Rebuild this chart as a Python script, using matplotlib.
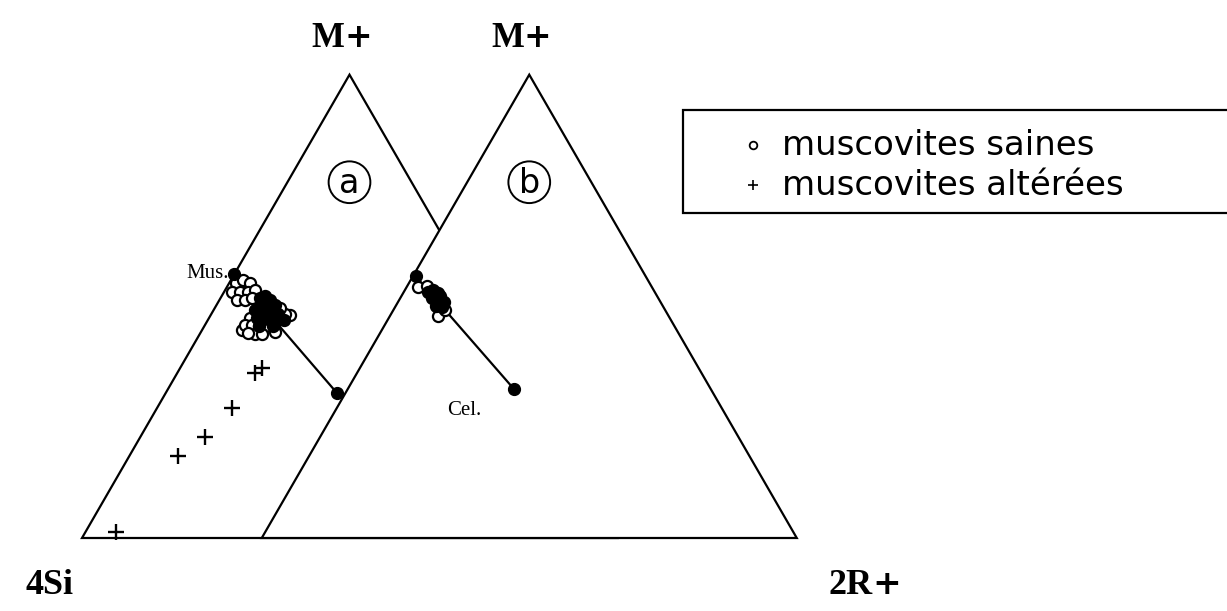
import numpy as np
import matplotlib
matplotlib.use("Agg")
import matplotlib.pyplot as plt
from matplotlib.patches import Polygon, Circle, Rectangle

# Diagramme ternaire M+ / 4Si / 2R+ (deux triangles a et b)
# chaque point : (M+, 2R+) en fraction, 4Si = 1 - M+ - 2R+

# triangle a
mus_a = (0.57, 0.0)
cel_a = (0.313, 0.320)
saines_a_M = [0.550, 0.557, 0.550, 0.531, 0.531, 0.531, 0.535, 0.514, 0.514, 0.518,
              0.449, 0.475, 0.460, 0.460, 0.458, 0.458, 0.440, 0.440, 0.442, 0.445,
              0.481, 0.483, 0.496]
saines_a_R = [0.013, 0.022, 0.039, 0.015, 0.030, 0.045, 0.056, 0.033, 0.048, 0.059,
              0.075, 0.077, 0.075, 0.088, 0.102, 0.115, 0.103, 0.116, 0.089, 0.138,
              0.148, 0.138, 0.122]
# coeur dense du nuage (rendu noir)
dense_a_M = [0.518, 0.522, 0.514, 0.503, 0.503, 0.503, 0.492, 0.488, 0.488, 0.488,
             0.483, 0.475, 0.475, 0.471, 0.471, 0.471, 0.458, 0.458]
dense_a_R = [0.074, 0.081, 0.094, 0.085, 0.096, 0.109, 0.077, 0.089, 0.100, 0.111,
             0.125, 0.090, 0.101, 0.116, 0.129, 0.142, 0.102, 0.128]
alterees_a_M = [0.356, 0.367, 0.281, 0.218, 0.177, 0.013]
alterees_a_R = [0.145, 0.153, 0.140, 0.121, 0.091, 0.057]

# triangle b
mus_b = (0.565, 0.005)
cel_b = (0.322, 0.310)
saines_b_M = [0.542, 0.544, 0.479, 0.492]
saines_b_R = [0.021, 0.036, 0.090, 0.096]
dense_b_M = [0.531, 0.535, 0.529, 0.518, 0.514, 0.509, 0.501, 0.499, 0.522]
dense_b_R = [0.045, 0.052, 0.0645, 0.059, 0.072, 0.086, 0.075, 0.087, 0.072]

H = np.sqrt(3) / 2
DX_B = 0.336  # decalage du triangle b


def tern(M, R, dx=0.0):
    M = np.asarray(M, float)
    R = np.asarray(R, float)
    return R + M / 2 + dx, M * H


def label_plus(x, y, base, size=25):
    # lettre en Times gras + signe plus plus large
    ax.text(x, y, base, ha='right', va='baseline', fontsize=size,
            family='Liberation Serif', weight='bold')
    ax.text(x, y, '+', ha='left', va='baseline', fontsize=size * 0.95,
            family='DejaVu Serif', weight='bold')


serif = 'Liberation Serif'
fig = plt.figure(figsize=(12.27, 6.11), dpi=100)
ax = fig.add_axes([0, 0, 1, 1])
ax.set_xlim(-0.15327, 2.14019)
ax.set_ylim(-0.13645, 1.00561)
ax.axis('off')

for dx, z in [(0.0, 1), (DX_B, 3)]:
    ax.add_patch(Polygon([[dx, 0], [dx + 0.5, H], [dx + 1, 0]], closed=True,
                         fc='white', ec='black', lw=1.6, zorder=z, joinstyle='miter'))

# triangle a
x, y = tern([mus_a[0], cel_a[0]], [mus_a[1], cel_a[1]])
ax.plot(x, y, color='black', lw=1.6, zorder=4)
ax.plot(*tern(saines_a_M, saines_a_R), 'o', ms=8, mfc='white', mec='black', mew=1.6, zorder=5)
ax.plot(*tern(dense_a_M, dense_a_R), 'o', ms=8, mfc='black', mec='black', mew=1.6, zorder=6)
ax.plot(x, y, 'o', ms=8.5, color='black', zorder=7)
ax.plot(*tern(alterees_a_M, alterees_a_R), '+', ms=11, mec='black', mew=1.7, zorder=5)

# triangle b
x, y = tern([mus_b[0], cel_b[0]], [mus_b[1], cel_b[1]], DX_B)
ax.plot(x, y, color='black', lw=1.6, zorder=4)
ax.plot(*tern(saines_b_M, saines_b_R, DX_B), 'o', ms=8, mfc='white', mec='black', mew=1.6, zorder=5)
ax.plot(*tern(dense_b_M, dense_b_R, DX_B), 'o', ms=8, mfc='black', mec='black', mew=1.6, zorder=6)
ax.plot(x, y, 'o', ms=8.5, color='black', zorder=7)

# lettres entourees
for dx, lab in [(0.0, 'a'), (DX_B, 'b')]:
    ax.add_patch(Circle((dx + 0.5, 0.665), 0.039, fc='none', ec='black', lw=1.4, zorder=8))
    ax.text(dx + 0.5, 0.662, lab, ha='center', va='center', fontsize=24,
            family='DejaVu Sans', zorder=8)

label_plus(0.49, 0.918, 'M')
label_plus(DX_B + 0.49, 0.918, 'M')
ax.text(-0.06, -0.105, '4Si', ha='center', va='baseline', fontsize=26,
        family=serif, weight='bold')
label_plus(1.478, -0.105, '2R', size=26)
ax.text(0.275, 0.495, 'Mus.', ha='right', va='center', fontsize=15, family=serif)
ax.text(0.715, 0.238, 'Cel.', ha='center', va='center', fontsize=15, family=serif)

# legende
ax.add_patch(Rectangle((0.5566, 0.6514), 0.46, 0.1686, transform=ax.transAxes,
                       fc='white', ec='black', lw=1.6, clip_on=False, zorder=8))
ax.plot([0.6135], [0.762], 'o', ms=5.5, mfc='white', mec='black', mew=1.3,
        transform=ax.transAxes, zorder=9)
ax.plot([0.6135], [0.697], '+', ms=7, mec='black', mew=1.2,
        transform=ax.transAxes, zorder=9)
ax.text(0.637, 0.762, 'muscovites saines', transform=ax.transAxes, ha='left',
        va='center', fontsize=24.5, family='DejaVu Sans', zorder=9)
ax.text(0.637, 0.697, 'muscovites altérées', transform=ax.transAxes, ha='left',
        va='center', fontsize=24.5, family='DejaVu Sans', zorder=9)

fig.savefig('out.png', dpi=100, facecolor='white')
